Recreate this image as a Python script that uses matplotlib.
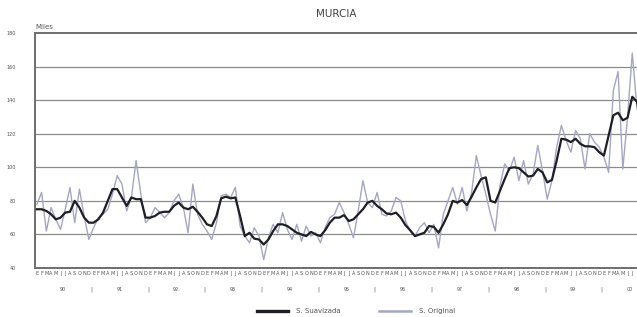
import numpy as np
import matplotlib.pyplot as plt
from matplotlib.lines import Line2D

# Monthly series, Jan 1990 .. Sep 2000 (thousands)
suavizada = [75, 75, 74, 72, 69, 70, 73, 73.5, 80, 76, 70, 67,
             67, 69, 73, 80, 87, 87, 82, 77, 82, 81, 81, 70,
             70, 71, 73, 73.5, 73.5, 77, 79, 76, 75, 76.5, 73.5, 70,
             66, 65, 71, 81.5, 82.5, 81.5, 82, 71, 59, 61, 57.5, 57,
             54, 57, 62, 66, 66, 65, 63, 61, 60, 59, 61.5, 60,
             59, 62.5, 67, 70, 70, 71.5, 68, 69, 72, 75, 79, 80,
             77, 75, 72.5, 72, 73, 70, 65.5, 62.5, 59, 60, 61, 65,
             64.5, 61, 66, 72, 80, 79, 80.5, 77.5, 82.5, 88, 93, 94,
             80, 79, 86, 93, 99.5, 100, 99.5, 97, 94.5, 95, 99, 97,
             91, 92.5, 104, 117, 116.5, 115, 117, 114, 112.5, 112.5, 112, 109,
             107, 119, 131, 132.5, 128, 129.5, 142, 139, 125]

original = [78, 85, 62, 76, 69, 63, 75, 88, 67, 87, 71, 57,
            64, 70, 72, 75, 84, 95, 90, 74, 82, 104, 84, 67,
            70, 76, 73, 70, 73, 80, 84, 76, 61, 90, 72, 66,
            62, 57, 67, 83, 84, 82, 88, 65, 59, 55, 64, 59,
            45, 58, 66, 61, 73, 63, 57, 66, 56, 65, 59, 61,
            55, 64, 70, 72, 79, 73, 66, 58, 74, 92, 79, 76,
            85, 72, 71, 74, 82, 80, 68, 62, 59, 64, 67, 61,
            66, 52, 72, 80, 88, 78, 88, 74, 85, 107, 95, 84,
            72, 62, 89, 102, 98, 106, 92, 104, 90, 96, 113, 98,
            81, 92, 112, 125, 116, 109, 122, 117, 99, 120, 115, 112,
            106, 97, 146, 157, 99, 130, 168, 135, 125]

meses = ['E', 'F', 'M', 'A', 'M', 'J', 'J', 'A', 'S', 'O', 'N', 'D']
anios = ['90', '91', '92', '93', '94', '95', '96', '97', '98', '99', '00']
y_ticks = [40, 60, 80, 100, 120, 140, 160, 180]

x = np.arange(len(suavizada))

fig = plt.figure(figsize=(6.37, 3.17), dpi=100)
ax = fig.add_axes([35 / 637, 49 / 317, 1 - 35 / 637, 235 / 317])

ax.plot(x, original, color='#a4a6c2', lw=1.0, zorder=2)
ax.plot(x, suavizada, color='#1e1e24', lw=1.6, zorder=3)

ax.set_xlim(-0.4, 127.0)
ax.set_ylim(40, 180)
ax.set_yticks(y_ticks)
ax.set_yticklabels([str(v) for v in y_ticks], fontsize=3.5, color='#555555')
ax.tick_params(axis='y', length=0, pad=14)
for v in y_ticks[1:-1]:
    ax.axhline(v, color='#8c8c8c', lw=0.9, zorder=1)

# month initials, only those fully inside the figure
tick_pos = x[x <= 126]
ax.set_xticks(tick_pos)
ax.set_xticklabels([meses[i % 12] for i in tick_pos], fontsize=3.6, color='#555555')
ax.tick_params(axis='x', length=0, pad=2)

for s in ['left', 'top', 'bottom']:
    ax.spines[s].set_color('#6e6e6e')
    ax.spines[s].set_linewidth(1.4)
ax.spines['right'].set_visible(False)

# year labels and separators below the month letters
for i, a in enumerate(anios):
    ax.text(i * 12 + 5.5, -0.09, a, transform=ax.get_xaxis_transform(),
            ha='center', va='center', fontsize=3.5, color='#555555', clip_on=False)
    if i > 0:
        ax.text(i * 12 - 0.5, -0.09, '|', transform=ax.get_xaxis_transform(),
                ha='center', va='center', fontsize=4, color='#555555', clip_on=False)

ax.text(0, 1.012, 'Miles', transform=ax.transAxes, fontsize=5, color='#555555',
        ha='left', va='bottom')
fig.text(336 / 637, 1 - 14 / 317, 'MURCIA', ha='center', va='center',
         fontsize=7.5, color='#444444')

handles = [Line2D([], [], color='#1e1e24', lw=2.4),
           Line2D([], [], color='#a4a6c2', lw=1.8)]
fig.legend(handles, ['S. Suavizada', 'S. Original'], loc='center',
           bbox_to_anchor=(356 / 637, 1 - 311 / 317), ncol=2, frameon=False,
           fontsize=5, handlelength=4.5, handletextpad=1.2, columnspacing=5.5,
           labelcolor='#555555')

fig.savefig('out.png', dpi=100)
